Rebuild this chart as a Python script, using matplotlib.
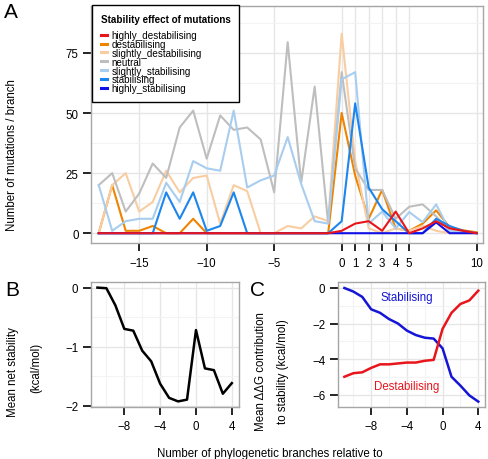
# plot.py
# Stability effect of mutations along phylogenetic branches (panels A, B, C)

import matplotlib
matplotlib.use("Agg")
import matplotlib.pyplot as plt
import numpy as np

plt.rcParams['font.family'] = ['Liberation Sans', 'DejaVu Sans']

# ---- data: panel A (branches -18 .. 10)
branches_a = list(range(-18, 11))

highly_destabilising = [0, 0, 0, 0, 0, 0, 0, 0, 0, 0, 0, 0, 0, 0, 0, 0, 0, 0,
                        1, 4, 5, 1, 9, 0, 2, 5, 2, 1, 0]
destabilising = [0, 20, 1, 1, 3, 0, 0, 6, 0, 0, 0, 0, 0, 0, 0, 0, 0, 0,
                 50, 24, 6, 18, 2, 1, 4, 9.5, 2.5, 1.2, 0.4]
slightly_destabilising = [0, 20, 25, 9, 13, 26, 17, 23, 24, 4, 20, 17.5, 0, 0, 3, 2, 7, 5,
                          83, 30, 2, 0, 2, 1, 3, 1, 0, 1, 0]
neutral = [20, 25, 9, 16.5, 29, 23, 44, 51, 31, 49, 43, 44, 39, 17, 79.5, 21, 61, 4,
           67, 27, 18, 18, 6, 11, 12, 7, 1, 0.5, 0]
slightly_stabilising = [20, 1, 5, 6, 6, 21, 13, 30, 27, 26, 51, 19, 22, 24, 40, 20.5, 5, 4,
                        64, 67, 4, 9, 2, 8.8, 4.6, 12, 1, 0.3, 0]
stabilising = [0, 0, 0, 0, 0, 17, 6, 17, 1, 3, 17, 0, 0, 0, 0, 0, 0, 0,
               5, 54, 19, 10, 5, 0, 0, 6, 3, 1, 0]
highly_stabilising = [0, 0, 0, 0, 0, 0, 0, 0, 0, 0, 0, 0, 0, 0, 0, 0, 0, 0,
                      0, 0, 0, 0, 0, 0, 0, 4.5, 0, 0, 0]

series_names = ["highly_destabilising", "destabilising", "slightly_destabilising",
                "neutral", "slightly_stabilising", "stabilising", "highly_stabilising"]
series_colors = ["#E8151B", "#EE8400", "#F8CDA2", "#BEBEBE", "#A8CDEE", "#1C86EE", "#1010E6"]
xticks_a = [-15, -10, -5, 0, 1, 2, 3, 4, 5, 10]

# ---- data: panels B and C (branches -11 .. 4)
branches_bc = list(range(-11, 5))
net_stability = [0, -0.01, -0.3, -0.7, -0.73, -1.07, -1.25, -1.63, -1.87, -1.93, -1.9,
                 -0.72, -1.37, -1.4, -1.8, -1.62]
stabilising_ddg = [0, -0.2, -0.5, -1.2, -1.4, -1.75, -2.0, -2.4, -2.65, -2.8, -2.85,
                   -3.4, -5.0, -5.5, -6.05, -6.4]
destabilising_ddg = [-5.0, -4.8, -4.75, -4.5, -4.3, -4.3, -4.25, -4.2, -4.2, -4.1, -4.05,
                     -2.3, -1.4, -0.9, -0.7, -0.15]

TICK_FS = 8.3
LAB_FS = 8.3


def style_axes(ax):
    ax.set_facecolor("white")
    for s in ax.spines.values():
        s.set_color("#a6a6a6")
        s.set_linewidth(1.0)
    ax.grid(which="major", color="#e6e6e6", linewidth=1.0, zorder=0)
    ax.grid(which="minor", color="#f3f3f3", linewidth=0.8, zorder=0)
    ax.set_axisbelow(True)
    ax.tick_params(which="major", direction="out", length=5.8, width=1.2,
                   color="black", labelsize=TICK_FS, pad=3)
    ax.tick_params(which="minor", length=0)


fig = plt.figure(figsize=(4.88, 4.6), dpi=100)

# ---- panel A
ax_a = fig.add_axes([0.1865, 0.4689, 0.8027, 0.5152])
style_axes(ax_a)
for name, col, vals in zip(series_names, series_colors,
                           [highly_destabilising, destabilising, slightly_destabilising,
                            neutral, slightly_stabilising, stabilising, highly_stabilising]):
    ax_a.plot(branches_a, vals, color=col, lw=1.5, label=name, zorder=3)
# draw red on top like in the original
ax_a.lines[0].set_zorder(4)
ax_a.set_xlim(-18.57, 10.45)
ax_a.set_ylim(-4.2, 94.4)
ax_a.set_xticks(xticks_a)
ax_a.set_xticklabels([str(t).replace("-", "\u2212") for t in xticks_a])
ax_a.set_yticks([0, 25, 50, 75])
ax_a.set_yticks([12.5, 37.5, 62.5, 87.5], minor=True)
ax_a.tick_params(axis="x", pad=4)

leg = ax_a.legend(loc="upper left", bbox_to_anchor=(0.002, 1.005), borderaxespad=0,
                  title="Stability effect of mutations", fontsize=7.1,
                  title_fontproperties={"weight": "bold", "size": 7.1},
                  alignment="left", handlelength=0.6, handletextpad=0.5,
                  labelspacing=-0.12, borderpad=0.9, fancybox=False, framealpha=1)
leg.get_frame().set_edgecolor("black")
leg.get_frame().set_linewidth(1.0)
leg._legend_box.sep = 4.5
for h in leg.legend_handles:
    h.set_linewidth(2.2)

# ---- panel B
ax_b = fig.add_axes([0.1859, 0.1124, 0.3029, 0.2717])
style_axes(ax_b)
ax_b.plot(branches_bc, net_stability, color="black", lw=1.8, zorder=3)
ax_b.set_xlim(-11.75, 4.75)
ax_b.set_ylim(-2.03, 0.09)
ax_b.set_xticks([-8, -4, 0, 4])
ax_b.set_xticks([-10, -6, -2, 2], minor=True)
ax_b.set_xticklabels(["\u22128", "\u22124", "0", "4"])
ax_b.set_yticks([0, -1, -2])
ax_b.set_yticks([-0.5, -1.5], minor=True)
ax_b.set_yticklabels(["0", "\u22121", "\u22122"])

# ---- panel C
ax_c = fig.add_axes([0.692, 0.1124, 0.3018, 0.2717])
style_axes(ax_c)
ax_c.plot(branches_bc, stabilising_ddg, color="#1515D5", lw=1.8, zorder=3)
ax_c.plot(branches_bc, destabilising_ddg, color="#E8151B", lw=1.8, zorder=3)
ax_c.set_xlim(-11.75, 4.75)
ax_c.set_ylim(-6.72, 0.32)
ax_c.set_xticks([-8, -4, 0, 4])
ax_c.set_xticks([-10, -6, -2, 2], minor=True)
ax_c.set_xticklabels(["\u22128", "\u22124", "0", "4"])
ax_c.set_yticks([0, -2, -4, -6])
ax_c.set_yticks([-1, -3, -5], minor=True)
ax_c.set_yticklabels(["0", "\u22122", "\u22124", "\u22126"])
ax_c.text(-4, -0.5, "Stabilising", color="#1515D5", fontsize=8.3, ha="center", va="center")
ax_c.text(-4, -5.5, "Destabilising", color="#E8151B", fontsize=8.3, ha="center", va="center")

# ---- labels (figure coords)
fig.text(12 / 488, 1 - 155 / 460, "Number of mutations / branch", rotation=90,
         ha="center", va="center", fontsize=LAB_FS)
fig.text(13 / 488, 1 - 372 / 460, "Mean net stability", rotation=90,
         ha="center", va="center", fontsize=LAB_FS)
fig.text(36 / 488, 1 - 368 / 460, "(kcal/mol)", rotation=90,
         ha="center", va="center", fontsize=LAB_FS)
fig.text(261 / 488, 1 - 372 / 460, "Mean \u0394\u0394G contribution", rotation=90,
         ha="center", va="center", fontsize=LAB_FS)
fig.text(283 / 488, 1 - 372 / 460, "to stability (kcal/mol)", rotation=90,
         ha="center", va="center", fontsize=LAB_FS)
fig.text(270 / 488, 1 - 454 / 460, "Number of phylogenetic branches relative to",
         ha="center", va="center", fontsize=LAB_FS)

fig.text(4 / 488, 1 - 3 / 460, "A", fontsize=15, ha="left", va="top")
fig.text(5 / 488, 1 - 281 / 460, "B", fontsize=15, ha="left", va="top")
fig.text(250 / 488, 1 - 281 / 460, "C", fontsize=15, ha="left", va="top")

fig.savefig("out.png", dpi=100)
